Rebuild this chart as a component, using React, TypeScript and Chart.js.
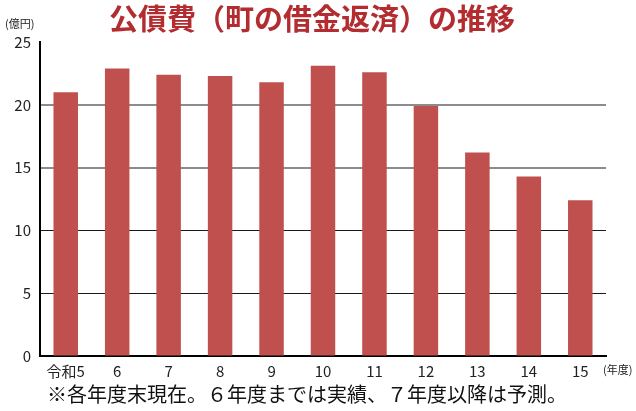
import React, { useEffect, useRef } from "react";
import { Chart, registerables } from "chart.js";
Chart.register(...registerables);

const categories = ["令和5", "6", "7", "8", "9", "10", "11", "12", "13", "14", "15"];
const values = [21.0, 22.9, 22.4, 22.3, 21.8, 23.1, 22.6, 19.9, 16.2, 14.3, 12.4];
const yMin = 0;
const yMax = 25;
const yStep = 5;
const titleText = "公債費（町の借金返済）の推移";
const yUnit = "(億円)";
const xUnit = "(年度)";
const noteText = "※各年度末現在。６年度までは実績、７年度以降は予測。";

const FONT = "'Noto Sans CJK JP', 'Noto Sans', sans-serif";

export default function App() {
  const ref = useRef<HTMLCanvasElement | null>(null);
  useEffect(() => {
    if (!ref.current) return;
    const textPlugin = {
      id: "texts",
      afterDraw(chart: any) {
        const c = chart.ctx;
        c.save();
        c.fillStyle = "#b22c30";
        c.font = `bold 29px ${FONT}`;
        c.textAlign = "left";
        c.textBaseline = "middle";
        c.fillText(titleText, 109, 19);
        c.fillStyle = "#222";
        c.font = `11px ${FONT}`;
        c.fillText(yUnit, 5, 24);
        c.fillText(xUnit, 603, 370);
        c.fillStyle = "#111";
        c.font = `20px ${FONT}`;
        c.fillText(noteText, 47, 394);
        c.restore();
      },
    };
    const chart = new Chart(ref.current, {
      type: "bar",
      data: {
        labels: categories,
        datasets: [
          {
            data: values,
            backgroundColor: "#C0504D",
            borderWidth: 0,
            barPercentage: 0.476,
            categoryPercentage: 1,
          },
        ],
      },
      options: {
        animation: false,
        responsive: false,
        maintainAspectRatio: false,
        layout: { padding: { top: 42, right: 30, left: 0, bottom: 0 } },
        plugins: {
          legend: { display: false },
          tooltip: { enabled: false },
          title: { display: false },
        },
        scales: {
          x: {
            grid: { display: false, drawTicks: false },
            border: { display: true, color: "#000", width: 2 },
            ticks: {
              color: "#222",
              font: { family: FONT, size: 15 },
              padding: 6,
              maxRotation: 0,
              autoSkip: false,
            },
            afterFit(scale: any) {
              scale.height = 55;
            },
          },
          y: {
            min: yMin,
            max: yMax,
            grid: {
              drawTicks: false,
              color: (ctx: any) => {
                const v = ctx.tick?.value;
                if (v === yMax || v === yMin) return "rgba(0,0,0,0)";
                return v >= 15 ? "#8c8c8c" : "#1a1a1a";
              },
              lineWidth: (ctx: any) => {
                const v = ctx.tick?.value;
                return v >= 15 ? 2 : 1;
              },
            },
            border: { display: true, color: "#000", width: 2 },
            ticks: {
              stepSize: yStep,
              color: "#222",
              font: { family: FONT, size: 15 },
              padding: 9,
            },
            afterFit(scale: any) {
              scale.width = 40;
            },
          },
        },
      },
      plugins: [textPlugin],
    });
    return () => chart.destroy();
  }, []);
  return (
    <div style={{ position: "fixed", left: 0, top: 0, width: 636, height: 411, background: "#fff" }}>
      <canvas ref={ref} width={636} height={411} style={{ width: 636, height: 411 }} />
    </div>
  );
}
